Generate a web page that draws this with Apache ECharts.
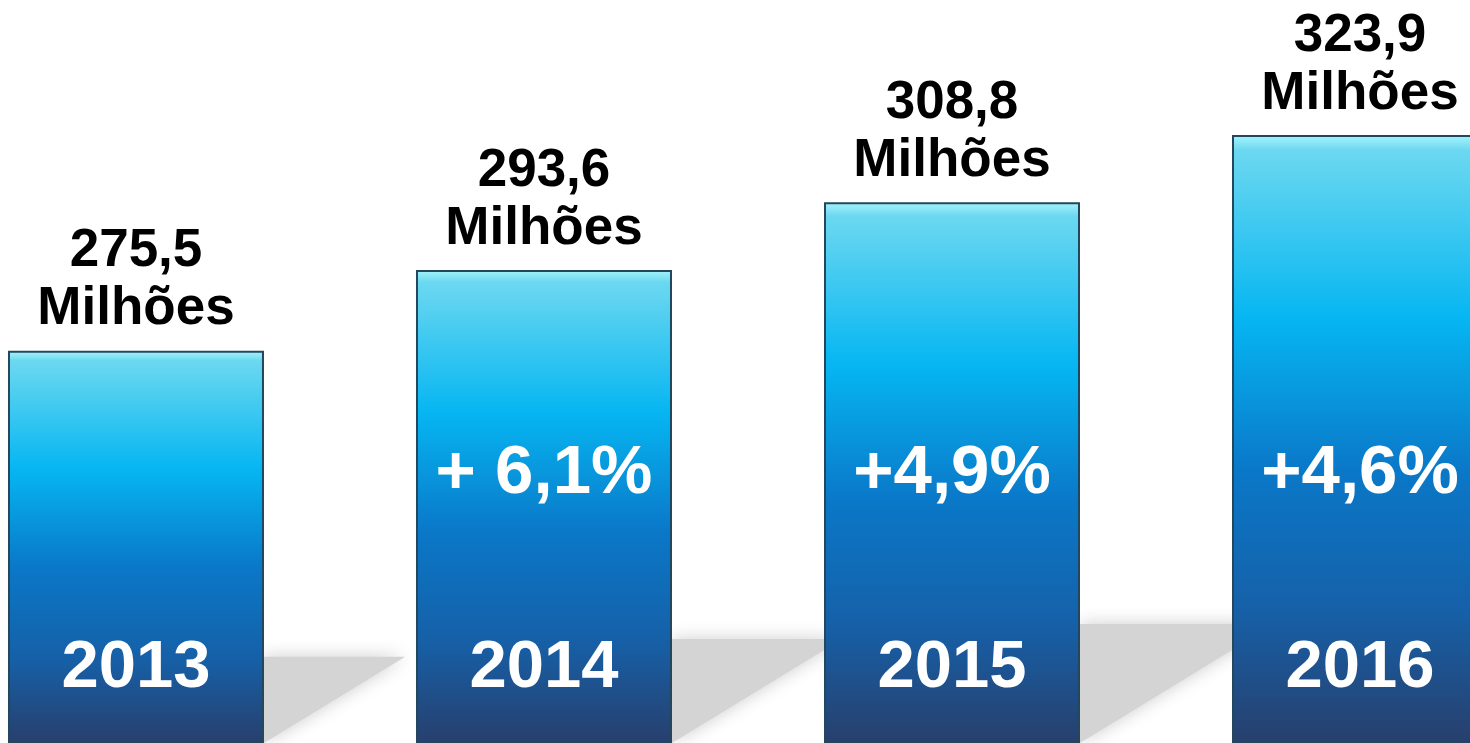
<!DOCTYPE html>
<html>
<head>
<meta charset="utf-8">
<script src="https://cdn.jsdelivr.net/npm/echarts@6/dist/echarts.min.js"></script>
<style>
  html, body { margin: 0; padding: 0; background: #fff; }
  #chart { width: 1470px; height: 743px; }
</style>
</head>
<body>
<div id="chart"></div>
<script>
// data
const years = ['2013', '2014', '2015', '2016'];
const values = [275.5, 293.6, 308.8, 323.9];
const growth = ['', '+ 6,1%', '+4,9%', '+4,6%'];

const yMin = 187.5;
const yMax = 354.2;
const barW = 256;
const font = '"Liberation Sans", Arial, sans-serif';

const barColor = {
  type: 'linear', x: 0, y: 0, x2: 0, y2: 1,
  colorStops: [
    { offset: 0, color: '#a6f4fc' },
    { offset: 0.025, color: '#6cd8f0' },
    { offset: 0.3, color: '#06b6f2' },
    { offset: 0.55, color: '#0a78c8' },
    { offset: 0.78, color: '#1660a8' },
    { offset: 1, color: '#283f6c' }
  ]
};

// bars sit on a value x axis so the last one can run off the right edge
const points = values.map((v, i) => [i, v]);

const chart = echarts.init(document.getElementById('chart'));

chart.setOption({
  animation: false,
  grid: { left: 0, right: 0, top: 0, bottom: 0 },
  xAxis: {
    type: 'value',
    min: -0.3333,
    max: 3.2696,
    show: false
  },
  yAxis: {
    type: 'value',
    min: yMin,
    max: yMax,
    show: false
  },
  series: [
    {
      // floor shadows to the right of each bar
      type: 'custom',
      z: 1,
      data: points,
      renderItem: function (params, api) {
        const top = api.coord([api.value(0), api.value(1)]);
        const bottom = params.coordSys.y + params.coordSys.height;
        const h = bottom - top[1];
        const x0 = top[0] + barW / 2;
        const sh = h * 0.22;
        const sw = h * 0.36;
        return {
          type: 'polygon',
          shape: {
            points: [[x0, bottom - sh], [x0 + sw, bottom - sh], [x0, bottom]]
          },
          style: {
            fill: '#d4d4d4',
            shadowBlur: 18,
            shadowColor: 'rgba(205,205,205,1)'
          }
        };
      }
    },
    {
      type: 'bar',
      z: 3,
      barWidth: barW,
      data: points,
      itemStyle: {
        color: barColor,
        borderColor: '#23485e',
        borderWidth: 2
      },
      label: {
        show: true,
        position: 'top',
        distance: 12,
        color: '#000',
        fontFamily: font,
        fontWeight: 'bold',
        fontSize: 53,
        lineHeight: 58,
        formatter: p => p.value[1].toFixed(1).replace('.', ',') + '\nMilhões'
      }
    },
    {
      type: 'bar',
      z: 4,
      barWidth: barW,
      barGap: '-100%',
      data: points,
      itemStyle: { color: 'transparent' },
      label: {
        show: true,
        position: 'insideBottom',
        distance: 41,
        color: '#fff',
        fontFamily: font,
        fontWeight: 'bold',
        fontSize: 67,
        lineHeight: 67,
        formatter: p => years[p.dataIndex]
      }
    },
    {
      type: 'bar',
      z: 4,
      barWidth: barW,
      barGap: '-100%',
      data: points,
      itemStyle: { color: 'transparent' },
      label: {
        show: true,
        position: 'insideBottom',
        distance: 235,
        color: '#fff',
        fontFamily: font,
        fontWeight: 'bold',
        fontSize: 69,
        lineHeight: 69,
        formatter: p => growth[p.dataIndex]
      }
    }
  ]
});
</script>
</body>
</html>
